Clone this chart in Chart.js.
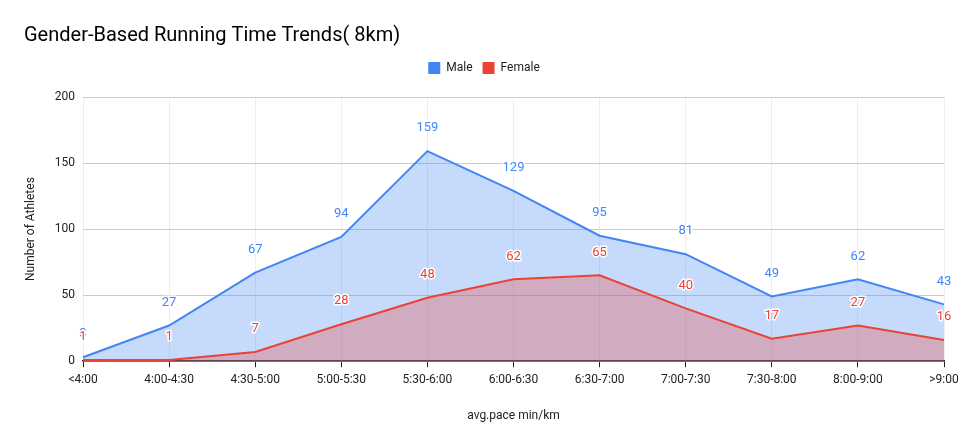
<!DOCTYPE html>
<html>
<head>
<meta charset="utf-8">
<script src="https://cdn.jsdelivr.net/npm/chart.js@4.4.0/dist/chart.umd.min.js"></script>
<style>
  html, body { margin: 0; padding: 0; background: #fff; }
  #wrap { width: 967px; height: 440px; }
</style>
</head>
<body>
<div id="wrap"><canvas id="paceChart" width="967" height="440"></canvas></div>
<script>
const paceLabels = ["<4:00", "4:00-4:30", "4:30-5:00", "5:00-5:30", "5:30-6:00", "6:00-6:30", "6:30-7:00", "7:00-7:30", "7:30-8:00", "8:00-9:00", ">9:00"];
const maleCounts = [3, 27, 67, 94, 159, 129, 95, 81, 49, 62, 43];
const femaleCounts = [1, 1, 7, 28, 48, 62, 65, 40, 17, 27, 16];
const yTicks = [0, 50, 100, 150, 200];

// labels above every point, white halo like the original
const pointLabels = {
  id: "pointLabels",
  afterDatasetsDraw(chart) {
    const ctx = chart.ctx;
    ctx.save();
    ctx.font = "13px Roboto";
    ctx.textAlign = "center";
    ctx.textBaseline = "middle";
    ctx.lineJoin = "round";
    chart.data.datasets.forEach((ds, i) => {
      const meta = chart.getDatasetMeta(i);
      meta.data.forEach((pt, j) => {
        const y = pt.y - 23;
        ctx.strokeStyle = "#fff";
        ctx.lineWidth = 3;
        ctx.strokeText(ds.data[j], pt.x, y);
        ctx.fillStyle = ds.borderColor;
        ctx.fillText(ds.data[j], pt.x, y);
      });
    });
    ctx.restore();
  },
};

// extra room between legend and plot
const legendGap = {
  id: "legendGap",
  beforeInit(chart) {
    const fit = chart.legend.fit;
    chart.legend.fit = function () {
      fit.bind(chart.legend)();
      this.height += 13;
    };
  },
};

const ctx = document.getElementById("paceChart").getContext("2d");
const paceChart = new Chart(ctx, {
  type: "line",
  data: {
    labels: paceLabels,
    datasets: [
      {
        label: "Male",
        data: maleCounts,
        borderColor: "#4285F4",
        backgroundColor: "rgba(66,133,244,0.3)",
        borderWidth: 2,
        pointRadius: 0,
        fill: "origin",
        tension: 0,
        order: 2,
      },
      {
        label: "Female",
        data: femaleCounts,
        borderColor: "#EA4335",
        backgroundColor: "rgba(234,67,53,0.3)",
        borderWidth: 2,
        pointRadius: 0,
        fill: "origin",
        tension: 0,
        order: 1,
      },
    ],
  },
  options: {
    responsive: false,
    animation: false,
    layout: { padding: { left: 24, right: 23, bottom: 13, top: 0 } },
    plugins: {
      title: {
        display: true,
        text: "Gender-Based Running Time Trends( 8km)",
        align: "start",
        color: "#000",
        font: { family: "Roboto", size: 20, weight: "normal" },
        padding: { top: 24, bottom: 4 },
      },
      legend: {
        display: true,
        labels: {
          boxWidth: 12,
          boxHeight: 12,
          color: "#222",
          font: { family: "Roboto", size: 12 },
          padding: 10,
          sort: (a, b) => a.datasetIndex - b.datasetIndex,
          generateLabels: (chart) =>
            Chart.defaults.plugins.legend.labels.generateLabels(chart).map((item) => {
              item.fillStyle = chart.data.datasets[item.datasetIndex].borderColor;
              item.lineWidth = 0;
              return item;
            }),
        },
      },
      tooltip: { enabled: false },
    },
    scales: {
      x: {
        grid: {
          color: "#eeeeee",
          tickColor: "#222",
          tickLength: 6,
          drawTicks: true,
        },
        border: { color: "#222", width: 1.5 },
        ticks: {
          color: "#222",
          font: { family: "Roboto", size: 12 },
          maxRotation: 0,
          autoSkip: false,
          padding: 6,
        },
        title: {
          display: true,
          text: "avg.pace min/km",
          color: "#222",
          font: { family: "Roboto", size: 12 },
          padding: { top: 15 },
        },
      },
      y: {
        min: 0,
        max: 200,
        afterBuildTicks: (scale) => {
          scale.ticks = yTicks.map((v) => ({ value: v }));
        },
        afterFit: (scale) => {
          scale.width = 59;
        },
        grid: { color: "#cccccc", drawTicks: false },
        border: { display: false },
        ticks: {
          color: "#222",
          font: { family: "Roboto", size: 12 },
          padding: 8,
        },
        title: {
          display: true,
          text: "Number of Athletes",
          color: "#222",
          font: { family: "Roboto", size: 12 },
          padding: 0,
        },
      },
    },
  },
  plugins: [pointLabels, legendGap],
});
</script>
</body>
</html>
